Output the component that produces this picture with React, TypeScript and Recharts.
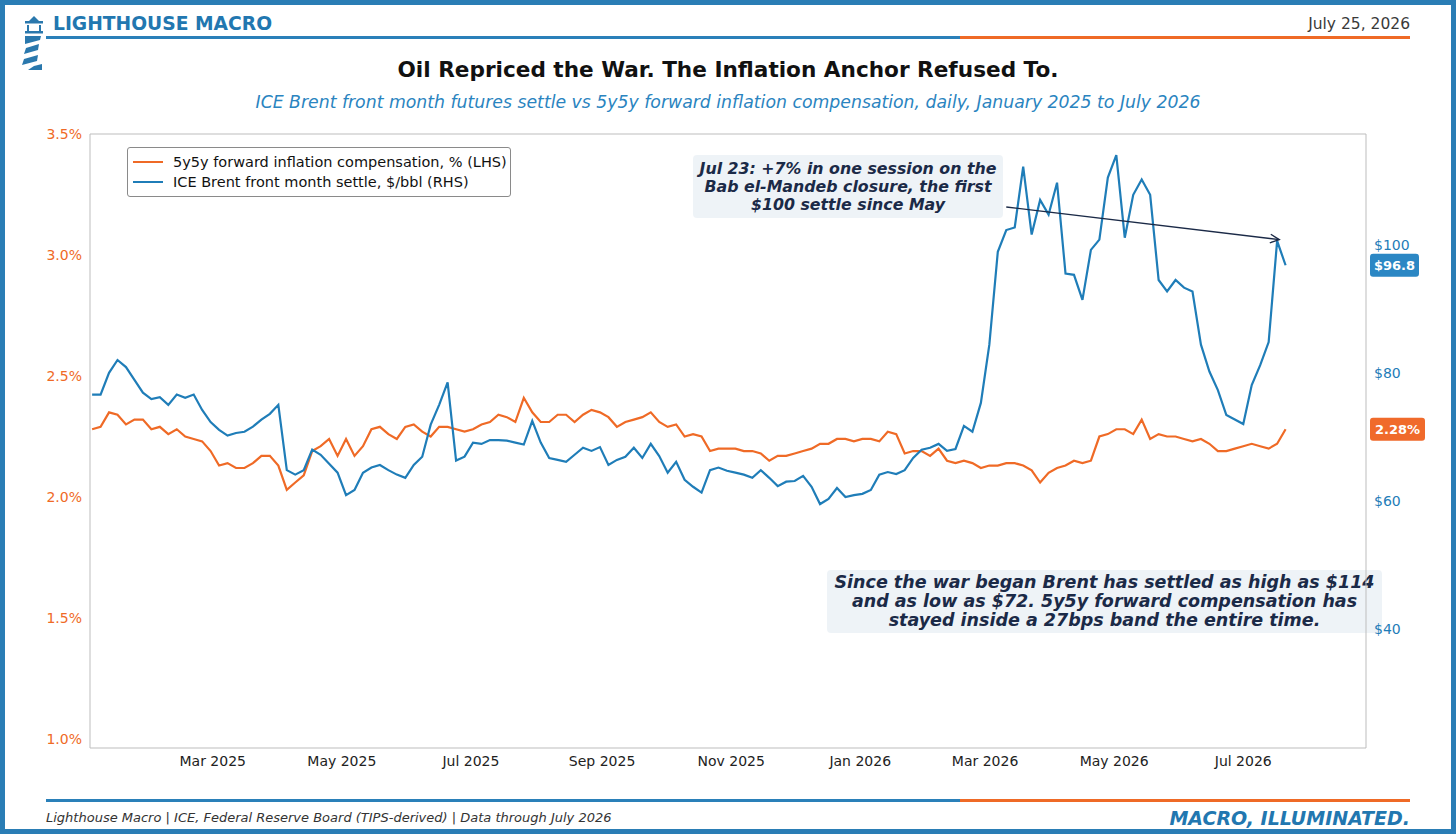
import React from "react";
import {
  Legend,
  Line,
  LineChart,
  ReferenceArea,
  ReferenceDot,
  ReferenceLine,
  XAxis,
  YAxis,
} from "recharts";

// daily settles sampled every 4 calendar days from Jan 3 2025
const DAY = 86400000;
const SERIES_START = Date.UTC(2025, 0, 3);
const STEP_DAYS = 4;

const brentSettle = [
  76.6, 76.6, 80.0, 82.0, 80.9, 78.9, 76.9, 75.9, 76.2, 75.0,
  76.6, 76.1, 76.6, 74.2, 72.3, 71.1, 70.2, 70.6, 70.8, 71.6,
  72.7, 73.6, 75.0, 64.8, 64.1, 64.8, 68.0, 67.2, 65.8, 64.4,
  60.9, 61.7, 64.4, 65.2, 65.6, 64.8, 64.1, 63.6, 65.6, 66.9,
  71.9, 75.0, 78.5, 66.3, 66.9, 69.1, 68.9, 69.5, 69.5, 69.4,
  69.1, 68.8, 72.5, 69.1, 66.7, 66.4, 66.1, 67.2, 68.3, 67.8,
  68.4, 65.6, 66.4, 66.9, 68.3, 66.7, 68.9, 67.0, 64.4, 66.1,
  63.3, 62.2, 61.3, 64.8, 65.2, 64.7, 64.4, 64.1, 63.6, 64.8,
  63.6, 62.3, 63.0, 63.1, 63.9, 62.2, 59.5, 60.3, 62.0, 60.6,
  60.9, 61.1, 61.7, 64.1, 64.5, 64.2, 64.8, 66.7, 68.0, 68.3,
  68.9, 67.8, 68.1, 71.7, 70.8, 75.3, 84.4, 98.9, 102.3, 102.7,
  112.2, 101.6, 107.0, 104.7, 109.7, 95.5, 95.3, 91.4, 99.2, 100.8,
  110.5, 114.0, 101.1, 107.8, 110.2, 107.8, 94.5, 92.7, 94.5, 93.3,
  92.7, 84.4, 80.2, 77.3, 73.4, 72.7, 72.0, 78.1, 81.2, 84.8,
  100.6, 96.8,
];

const fwdInflation = [
  2.28, 2.29, 2.35, 2.34, 2.30, 2.32, 2.32, 2.28, 2.29, 2.26,
  2.28, 2.25, 2.24, 2.23, 2.19, 2.13, 2.14, 2.12, 2.12, 2.14,
  2.17, 2.17, 2.13, 2.03, 2.06, 2.09, 2.19, 2.21, 2.24, 2.17,
  2.24, 2.17, 2.21, 2.28, 2.29, 2.26, 2.24, 2.29, 2.30, 2.27,
  2.25, 2.29, 2.29, 2.28, 2.27, 2.28, 2.30, 2.31, 2.34, 2.33,
  2.31, 2.41, 2.35, 2.31, 2.31, 2.34, 2.34, 2.31, 2.34, 2.36,
  2.35, 2.33, 2.29, 2.31, 2.32, 2.33, 2.35, 2.31, 2.29, 2.30,
  2.25, 2.26, 2.25, 2.19, 2.20, 2.20, 2.20, 2.19, 2.19, 2.18,
  2.15, 2.17, 2.17, 2.18, 2.19, 2.20, 2.22, 2.22, 2.24, 2.24,
  2.23, 2.24, 2.24, 2.23, 2.27, 2.26, 2.18, 2.19, 2.19, 2.17,
  2.20, 2.15, 2.14, 2.15, 2.14, 2.12, 2.13, 2.13, 2.14, 2.14,
  2.13, 2.11, 2.06, 2.10, 2.12, 2.13, 2.15, 2.14, 2.15, 2.25,
  2.26, 2.28, 2.28, 2.26, 2.32, 2.24, 2.26, 2.25, 2.25, 2.24,
  2.23, 2.24, 2.22, 2.19, 2.19, 2.20, 2.21, 2.22, 2.21, 2.20,
  2.22, 2.28,
];

const monthTicks = [
  "2025-03-01", "2025-05-01", "2025-07-01", "2025-09-01", "2025-11-01",
  "2026-01-01", "2026-03-01", "2026-05-01", "2026-07-01",
];
const pctTicks = [1.0, 1.5, 2.0, 2.5, 3.0, 3.5];
const usdTicks = [40, 60, 80, 100];

const MONTHS = ["Jan", "Feb", "Mar", "Apr", "May", "Jun", "Jul", "Aug", "Sep", "Oct", "Nov", "Dec"];
const X_DOMAIN = [Date.UTC(2025, 0, 2), Date.UTC(2026, 7, 28)];
const PCT_DOMAIN = [0.963, 3.5];
const USD_DOMAIN = [21.4, 117.3];

const ORANGE = "#ef6a26";
const BLUE = "#1f7db8";
const NAVY = "#1b2a47";
const FONT = "'DejaVu Sans', sans-serif";

const rows = brentSettle.map((brent, i) => ({
  t: SERIES_START + i * STEP_DAYS * DAY,
  brent,
  fwd: fwdInflation[i],
}));
const last = rows[rows.length - 1];

// arrow from the callout box to the Jul 23 spike
const arrowFrom = { x: Date.UTC(2026, 2, 11), y: 105.9 };
const arrowTo = { x: Date.UTC(2026, 6, 18), y: 100.8 };

const fmtMonth = (t: number) => {
  const d = new Date(t);
  return `${MONTHS[d.getUTCMonth()]} ${d.getUTCFullYear()}`;
};

const Arrow = (p: any) => {
  const { x1, y1, x2, y2 } = p;
  const a = Math.atan2(y2 - y1, x2 - x1);
  const len = 10;
  const spread = 0.45;
  const hx1 = x2 - len * Math.cos(a - spread);
  const hy1 = y2 - len * Math.sin(a - spread);
  const hx2 = x2 - len * Math.cos(a + spread);
  const hy2 = y2 - len * Math.sin(a + spread);
  return (
    <g stroke={NAVY} strokeWidth={1.4} fill="none">
      <line x1={x1} y1={y1} x2={x2} y2={y2} />
      <polyline points={`${hx1},${hy1} ${x2},${y2} ${hx2},${hy2}`} />
    </g>
  );
};

const badge = (text: string, color: string, w: number) => (p: any) => (
  <g>
    <rect x={p.cx + 4} y={p.cy - 11.5} width={w} height={23} rx={3} fill={color} />
    <text
      x={p.cx + 4 + w / 2}
      y={p.cy + 5}
      textAnchor="middle"
      fill="#fff"
      fontSize={13}
      fontWeight="bold"
      fontFamily={FONT}
    >
      {text}
    </text>
  </g>
);

const LegendBox = ({ payload }: any) => (
  <div
    style={{
      width: 384,
      height: 50,
      border: "1px solid #8a8a8a",
      borderRadius: 3,
      background: "#fff",
      boxSizing: "border-box",
      padding: "4px 0 0 5px",
      fontSize: 14.5,
      color: "#111",
      fontFamily: FONT,
      textAlign: "left",
    }}
  >
    {(payload || []).map((e: any) => (
      <div key={e.value} style={{ display: "flex", alignItems: "center", height: 20 }}>
        <span style={{ width: 30, height: 2.5, background: e.color, marginRight: 10 }} />
        {e.value}
      </div>
    ))}
  </div>
);

const Lighthouse = () => (
  <svg width={30} height={60} style={{ position: "absolute", left: 20, top: 14 }}>
    <g fill="#2a78ad">
      <path d="M9 7 L14 2 L19 7 Z" />
      <rect x={5} y={7} width={18} height={2.5} />
      <rect x={7} y={11} width={2} height={6} />
      <rect x={19} y={11} width={2} height={6} />
      <rect x={5} y={17} width={18} height={2.5} />
      <path d="M5 22 L21 22 L20 26 L5 30 Z" />
      <path d="M6 34 L19 30 L18 36 L4 40 Z" />
      <path d="M4 45 L18 41 L17 47 L2 51 Z" />
      <path d="M14 52 L22 50 L22 56 L8 56 Z" />
    </g>
  </svg>
);

const abs = (s: React.CSSProperties): React.CSSProperties => ({ position: "absolute", ...s });

const noteBox: React.CSSProperties = {
  background: "rgba(236,242,246,0.9)",
  borderRadius: 4,
  color: NAVY,
  fontWeight: "bold",
  fontStyle: "italic",
  textAlign: "center",
  boxSizing: "border-box",
  whiteSpace: "nowrap",
};

export default function App() {
  return (
    <div
      style={abs({
        left: 0,
        top: 0,
        width: 1456,
        height: 834,
        background: "#fff",
        border: "5px solid #2a7db5",
        boxSizing: "border-box",
        fontFamily: FONT,
        overflow: "hidden",
      })}
    >
      <div style={abs({ left: -5, top: -5, width: 1456, height: 834 })}>
        <Lighthouse />
        <div style={abs({ left: 53, top: 14, fontSize: 18.7, lineHeight: "20px", fontWeight: "bold", color: "#2277b0" })}>
          LIGHTHOUSE MACRO
        </div>
        <div style={abs({ right: 46, top: 15, fontSize: 15.5, lineHeight: "18px", color: "#3a3a3a" })}>July 25, 2026</div>
        <div style={abs({ left: 46, top: 36, width: 914, height: 2.5, background: "#2a80b9" })} />
        <div style={abs({ left: 960, top: 36, width: 450, height: 2.5, background: ORANGE })} />

        <div style={abs({ left: 0, top: 57, width: 1456, textAlign: "center", fontSize: 21.6, lineHeight: "26px", fontWeight: "bold", color: "#111" })}>
          Oil Repriced the War. The Inflation Anchor Refused To.
        </div>
        <div style={abs({ left: 0, top: 91, width: 1456, textAlign: "center", fontSize: 17.3, lineHeight: "22px", fontStyle: "italic", color: "#2a84c0" })}>
          ICE Brent front month futures settle vs 5y5y forward inflation compensation, daily, January 2025 to July 2026
        </div>

        {/* callout boxes sit under the chart svg so tick labels stay on top */}
        <div style={abs({ ...noteBox, left: 693, top: 155, width: 310, height: 63, fontSize: 15.8, lineHeight: "18px", paddingTop: 5 })}>
          Jul 23: +7% in one session on the
          <br />
          Bab el-Mandeb closure, the first
          <br />
          $100 settle since May
        </div>
        <div style={abs({ ...noteBox, left: 827, top: 570, width: 555, height: 63, fontSize: 17.5, lineHeight: "19px", paddingTop: 3 })}>
          Since the war began Brent has settled as high as $114
          <br />
          and as low as $72. 5y5y forward compensation has
          <br />
          stayed inside a 27bps band the entire time.
        </div>

        <div style={abs({ left: 0, top: 0 })}>
          <LineChart width={1456} height={834} data={rows} margin={{ top: 134, right: 30, bottom: 56, left: 30 }}>
            <XAxis
              dataKey="t"
              type="number"
              scale="time"
              domain={X_DOMAIN}
              allowDataOverflow
              ticks={monthTicks.map((d) => Date.parse(d))}
              tickFormatter={fmtMonth}
              tick={{ fill: "#222", fontSize: 14, fontFamily: FONT }}
              tickLine={false}
              axisLine={false}
              height={30}
            />
            <YAxis
              yAxisId="pct"
              orientation="left"
              domain={PCT_DOMAIN}
              allowDataOverflow
              ticks={pctTicks}
              tickFormatter={(v: number) => `${v.toFixed(1)}%`}
              tick={{ fill: ORANGE, fontSize: 14, fontFamily: FONT }}
              tickLine={false}
              axisLine={false}
              width={60}
            />
            <YAxis
              yAxisId="usd"
              orientation="right"
              domain={USD_DOMAIN}
              allowDataOverflow
              ticks={usdTicks}
              tickFormatter={(v: number) => `$${v}`}
              tick={{ fill: BLUE, fontSize: 14, fontFamily: FONT }}
              tickLine={false}
              axisLine={false}
              width={60}
            />
            <ReferenceArea
              yAxisId="pct"
              x1={X_DOMAIN[0]}
              x2={X_DOMAIN[1]}
              y1={PCT_DOMAIN[0]}
              y2={PCT_DOMAIN[1]}
              fill="none"
              stroke="#bdbdbd"
              strokeWidth={1}
            />
            {/* vertical/middle/center keeps the legend out of the plot offset */}
            <Legend
              layout="vertical"
              verticalAlign="middle"
              align="center"
              content={<LegendBox />}
              wrapperStyle={{ left: 127, top: 147, width: 384, height: 50, margin: 0 }}
            />
            <Line
              yAxisId="pct"
              dataKey="fwd"
              name="5y5y forward inflation compensation, % (LHS)"
              stroke={ORANGE}
              strokeWidth={2.2}
              dot={false}
              type="linear"
              isAnimationActive={false}
            />
            <Line
              yAxisId="usd"
              dataKey="brent"
              name="ICE Brent front month settle, $/bbl (RHS)"
              stroke={BLUE}
              strokeWidth={2.2}
              dot={false}
              type="linear"
              isAnimationActive={false}
            />
            <ReferenceLine yAxisId="usd" segment={[arrowFrom, arrowTo]} shape={Arrow} ifOverflow="visible" />
            <ReferenceDot
              yAxisId="usd"
              x={X_DOMAIN[1]}
              y={last.brent}
              ifOverflow="visible"
              shape={badge(`$${last.brent.toFixed(1)}`, "#2b87c4", 49)}
            />
            <ReferenceDot
              yAxisId="pct"
              x={X_DOMAIN[1]}
              y={last.fwd}
              ifOverflow="visible"
              shape={badge(`${last.fwd.toFixed(2)}%`, "#f06a2b", 55)}
            />
          </LineChart>
        </div>

        <div style={abs({ left: 46, top: 799, width: 914, height: 3, background: "#2a80b9" })} />
        <div style={abs({ left: 960, top: 799, width: 450, height: 3, background: ORANGE })} />
        <div style={abs({ left: 46, top: 810, fontSize: 13, lineHeight: "16px", fontStyle: "italic", color: "#333" })}>
          Lighthouse Macro | ICE, Federal Reserve Board (TIPS-derived) | Data through July 2026
        </div>
        <div style={abs({ right: 46, top: 806, fontSize: 19, lineHeight: "24px", fontStyle: "italic", fontWeight: "bold", color: "#2277b0" })}>
          MACRO, ILLUMINATED.
        </div>
      </div>
    </div>
  );
}
